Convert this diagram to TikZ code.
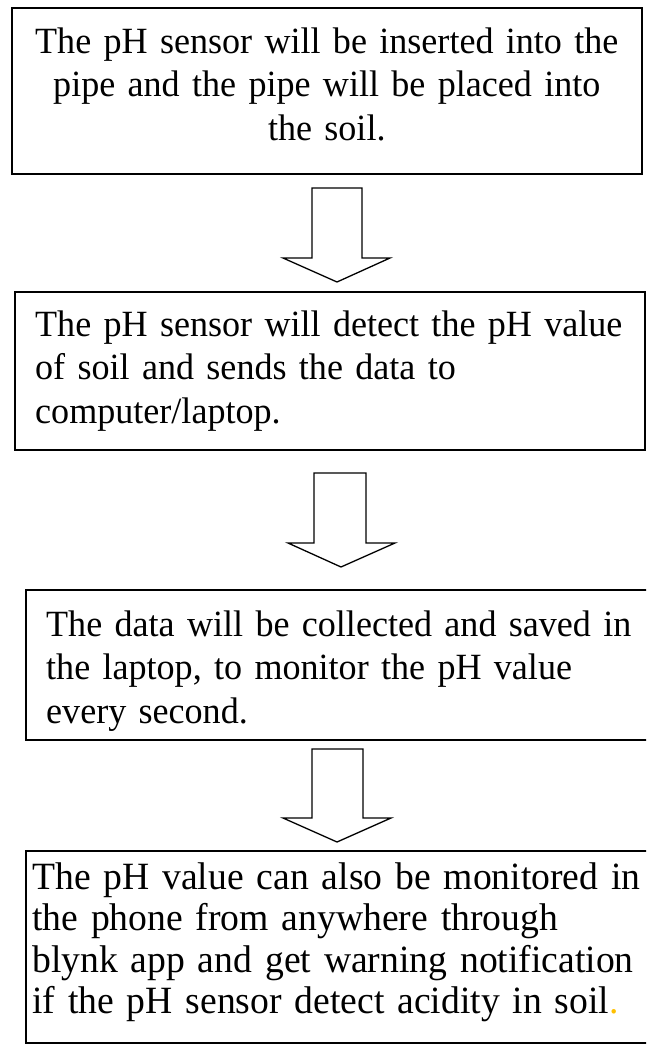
\documentclass[tikz,border=0pt]{standalone}
\usepackage{fontspec}
\setmainfont{Liberation Serif}
\newfontfamily\bodyserif[FakeStretch=0.975]{Liberation Serif}
\definecolor{dotorange}{HTML}{FFC000}
\begin{document}
\begin{tikzpicture}[x=1pt,y=-1pt,
  box/.style={draw=black,line width=1.6pt,fill=none,inner sep=0pt,anchor=north west},
  blockarrow/.style={draw=black,line width=1.3pt,line join=miter,fill=white},
  txt/.style={anchor=base west,inner sep=0pt,align=left,text width=#1},
  bodyfont/.style={font=\bodyserif\fontsize{37}{43.5}\selectfont},
  bigfont/.style={font=\bodyserif\fontsize{38.6}{41.5}\selectfont}]
\useasboundingbox (0,0) rectangle (646,1044);
\clip (0,0) rectangle (646,1044);
% boxes
\node[box,minimum width=630pt,minimum height=166pt] (b1) at (11,7) {};
\node[box,minimum width=630pt,minimum height=158pt] (b2) at (14,291) {};
\node[box,minimum width=630pt,minimum height=150pt] (b3) at (25,589) {};
\node[box,minimum width=630pt,minimum height=192pt] (b4) at (25,850) {};
% texts
\node[txt=630pt,bodyfont,align=center,anchor=base] (t1) at (b1.north |- 0,53)
  {The pH sensor will be inserted into the\\ pipe and the pipe will be placed into\\ the soil.};
\node[txt=700pt,bodyfont] (t2) at (35,336)
  {The pH sensor will detect the pH value\\ of soil and sends the data to\\ computer/laptop.};
\node[txt=700pt,bodyfont] (t3) at (46,636)
  {The data will be collected and saved in\\ the laptop, to monitor the pH value\\ every second.};
\node[txt=700pt,bigfont] (t4) at (32,889)
  {The pH value can also be monitored in\\ the phone from anywhere through\\ blynk app and get warning notification\\ if the pH sensor detect acidity in soil\textcolor{dotorange}{.}};
% block arrows
\draw[blockarrow] (312,188) -- (362,188) -- (362,258) -- (390,258) -- (337,282) -- (283,258) -- (312,258) -- cycle;
\draw[blockarrow] (314,473) -- (366,473) -- (366,543) -- (395,543) -- (341,567) -- (288,543) -- (314,543) -- cycle;
\draw[blockarrow] (312,749) -- (363,749) -- (363,818) -- (391,818) -- (337,842) -- (283,818) -- (312,818) -- cycle;
\end{tikzpicture}
\end{document}
